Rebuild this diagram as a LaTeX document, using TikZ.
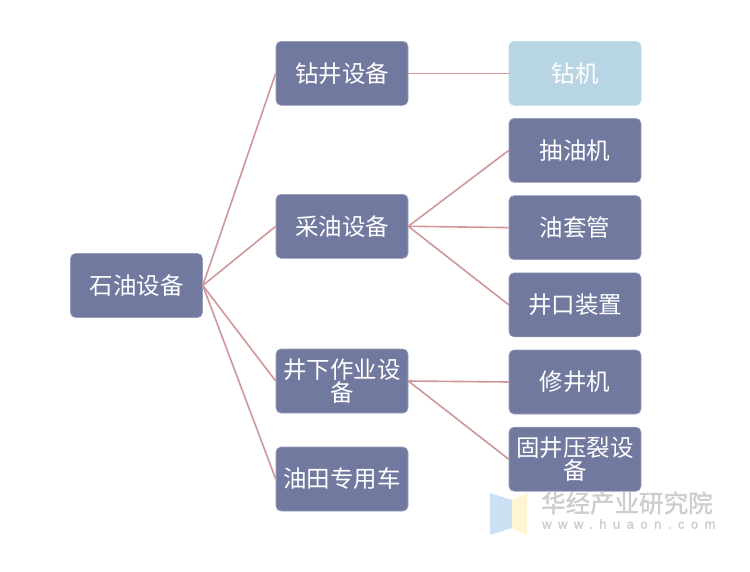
\documentclass[tikz,border=0pt]{standalone}
\usepackage{fontspec}
\newfontfamily\cjk{Noto Sans CJK SC}
\newfontfamily\cjkb{Noto Sans CJK SC}[FakeBold=1.5]
\newfontfamily\wmfont{Liberation Sans}[LetterSpace=50,FakeBold=2]
\definecolor{boxblue}{RGB}{113,121,159}
\definecolor{boxedge}{RGB}{150,158,190}
\definecolor{lightbox}{RGB}{184,213,228}
\definecolor{linkcol}{RGB}{208,150,152}
\definecolor{wmgray}{RGB}{205,205,205}
\definecolor{logoblue}{RGB}{205,225,245}
\definecolor{logoyellow}{RGB}{255,245,210}
\tikzset{
  box/.style={rectangle, rounded corners=5pt, fill=boxblue, draw=boxedge, line width=0.6pt,
    minimum width=132pt, minimum height=64pt, text width=124pt, inner sep=4pt,
    align=center, text=white, font=\cjk\fontsize{23.5}{23.5}\selectfont},
  lightbox/.style={box, fill=lightbox, draw=lightbox!90!white},
  link/.style={draw=linkcol, line width=1.6pt}
}
\begin{document}
\begin{tikzpicture}[x=1pt,y=-1pt]
\useasboundingbox (0,0) rectangle (750,571);
% root
\node[box] (root) at (136.5,285.5) {石油设备};
% level 2
\node[box] (zj) at (342,73.3) {钻井设备};
\node[box] (cy) at (342,226.3) {采油设备};
\node[box] (jx) at (342,381) {井下作业设\\备};
\node[box] (yt) at (342,479) {油田专用车};
% level 3
\node[lightbox] (zjj) at (575,73.3) {钻机};
\node[box] (cyj) at (575,150.4) {抽油机};
\node[box] (ytg) at (575,227.6) {油套管};
\node[box] (jk) at (575,304.8) {井口装置};
\node[box] (xj) at (575,382) {修井机};
\node[box] (gj) at (575,459.2) {固井压裂设\\备};
% links
\foreach \c in {zj,cy,jx,yt} \draw[link] (root.east) -- (\c.west);
\draw[link] (zj.east) -- (zjj.west);
\foreach \c in {cyj,ytg,jk} \draw[link] (cy.east) -- (\c.west);
\foreach \c in {xj,gj} \draw[link] (jx.east) -- (\c.west);
% watermark
\fill[logoblue] (490,493) -- (512,500) -- (512,528) -- (490,535) -- cycle;
\fill[logoyellow] (512,500) -- (527,493) -- (527,535) -- (512,528) -- cycle;
\node[anchor=west, inner sep=0pt, text=wmgray, font=\cjkb\fontsize{24.5}{25}\selectfont] (wm1) at (541,503) {华经产业研究院};
\node[anchor=west, inner sep=0pt, text=wmgray, font=\wmfont\fontsize{13}{14}\selectfont] (wm2) at (542,524) {www.huaon.com};
\end{tikzpicture}
\end{document}
